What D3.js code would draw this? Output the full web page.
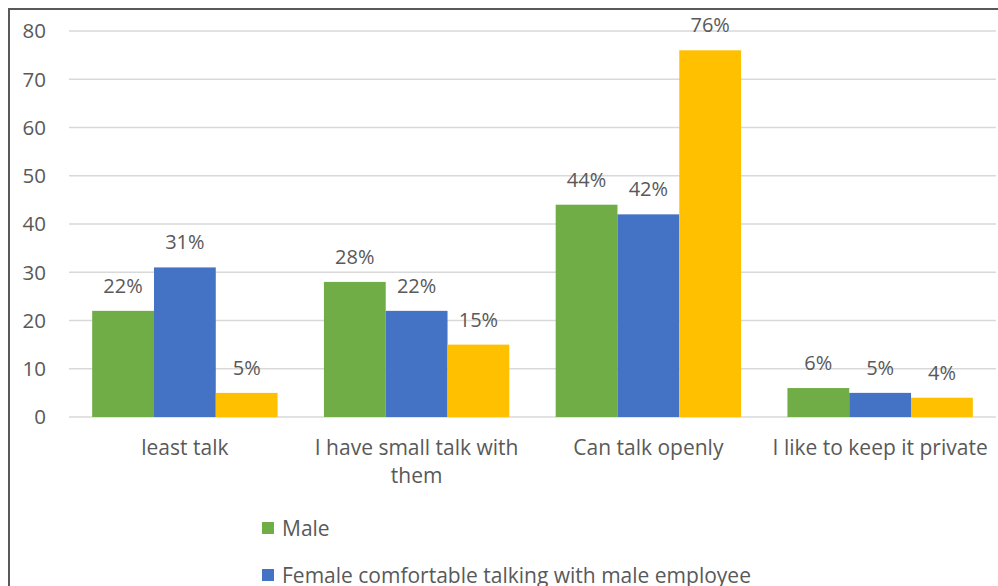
<!DOCTYPE html>
<html>
<head>
<meta charset="utf-8">
<script src="https://cdn.jsdelivr.net/npm/d3@7"></script>
<style>
  body { margin: 0; background: #fff; }
  svg { display: block; font-family: "Open Sans", sans-serif; }
</style>
</head>
<body>
<div id="chart"></div>
<script>
const categories = ["least talk", "I have small talk with them", "Can talk openly", "I like to keep it private"];
const seriesNames = ["Male", "Female comfortable talking with male employee", "Female"];
const male = [22, 28, 44, 6];
const female = [31, 22, 42, 5];
const femaleOther = [5, 15, 76, 4];
const yTicks = [0, 10, 20, 30, 40, 50, 60, 70, 80];
const colors = ["#70ad47", "#4472c4", "#ffc000"];

const width = 998, height = 586;
const margins = {top: 31, right: 2, bottom: 169, left: 69};

const svg = d3.select("#chart").append("svg")
  .attr("width", width)
  .attr("height", height);

// outer frame (runs off the right / bottom edge like the crop)
svg.append("rect")
  .attr("x", 9).attr("y", 9)
  .attr("width", 1100).attr("height", 700)
  .attr("fill", "none")
  .attr("stroke", "#595959")
  .attr("stroke-width", 2);

const series = [male, female, femaleOther];

const x0 = d3.scaleBand()
  .domain(categories)
  .range([margins.left, width - margins.right])
  .paddingInner(0.2)
  .paddingOuter(0.1);

const x1 = d3.scaleBand()
  .domain(d3.range(series.length))
  .range([0, x0.bandwidth()]);

const y = d3.scaleLinear()
  .domain([0, 80])
  .range([height - margins.bottom, margins.top]);

// gridlines
svg.append("g")
  .selectAll("line")
  .data(yTicks)
  .join("line")
    .attr("x1", margins.left)
    .attr("x2", width - margins.right)
    .attr("y1", d => y(d))
    .attr("y2", d => y(d))
    .attr("stroke", "#d9d9d9")
    .attr("stroke-width", 1.5);

// y axis labels
svg.append("g")
  .selectAll("text")
  .data(yTicks)
  .join("text")
    .attr("x", 46)
    .attr("y", d => y(d))
    .attr("dy", "0.36em")
    .attr("text-anchor", "end")
    .attr("font-size", 20.5)
    .attr("fill", "#595959")
    .text(d => d);

// bars
const groups = svg.append("g")
  .selectAll("g")
  .data(categories)
  .join("g")
    .attr("transform", d => "translate(" + x0(d) + ",0)");

groups.selectAll("rect")
  .data((d, i) => series.map((s, k) => ({k: k, v: s[i]})))
  .join("rect")
    .attr("x", d => x1(d.k))
    .attr("y", d => y(d.v))
    .attr("width", x1.bandwidth())
    .attr("height", d => y(0) - y(d.v))
    .attr("fill", d => colors[d.k]);

groups.selectAll("text.lbl")
  .data((d, i) => series.map((s, k) => ({k: k, v: s[i]})))
  .join("text")
    .attr("class", "lbl")
    .attr("x", d => x1(d.k) + x1.bandwidth() / 2)
    .attr("y", d => y(d.v) - 18)
    .attr("text-anchor", "middle")
    .attr("font-size", 20)
    .attr("fill", "#595959")
    .text(d => d.v + "%");

// category labels (wrapped like the original)
const catLines = {
  "least talk": ["least talk"],
  "I have small talk with them": ["I have small talk with", "them"],
  "Can talk openly": ["Can talk openly"],
  "I like to keep it private": ["I like to keep it private"]
};
svg.append("g")
  .selectAll("text")
  .data(categories)
  .join("text")
    .attr("x", d => x0(d) + x0.bandwidth() / 2)
    .attr("y", 455)
    .attr("text-anchor", "middle")
    .attr("font-size", 21)
    .attr("fill", "#595959")
    .each(function(d) {
      const t = d3.select(this);
      catLines[d].forEach((line, i) => {
        t.append("tspan")
          .attr("x", x0(d) + x0.bandwidth() / 2)
          .attr("dy", i === 0 ? 0 : 28)
          .text(line);
      });
    });

// legend
const legend = svg.append("g")
  .selectAll("g")
  .data(seriesNames)
  .join("g")
    .attr("transform", (d, i) => "translate(262," + (522 + i * 47) + ")");

legend.append("rect")
  .attr("width", 12).attr("height", 12)
  .attr("fill", (d, i) => colors[i]);

legend.append("text")
  .attr("x", 20)
  .attr("y", 6)
  .attr("dy", "0.36em")
  .attr("font-size", 21)
  .attr("fill", "#595959")
  .text(d => d);
</script>
</body>
</html>
